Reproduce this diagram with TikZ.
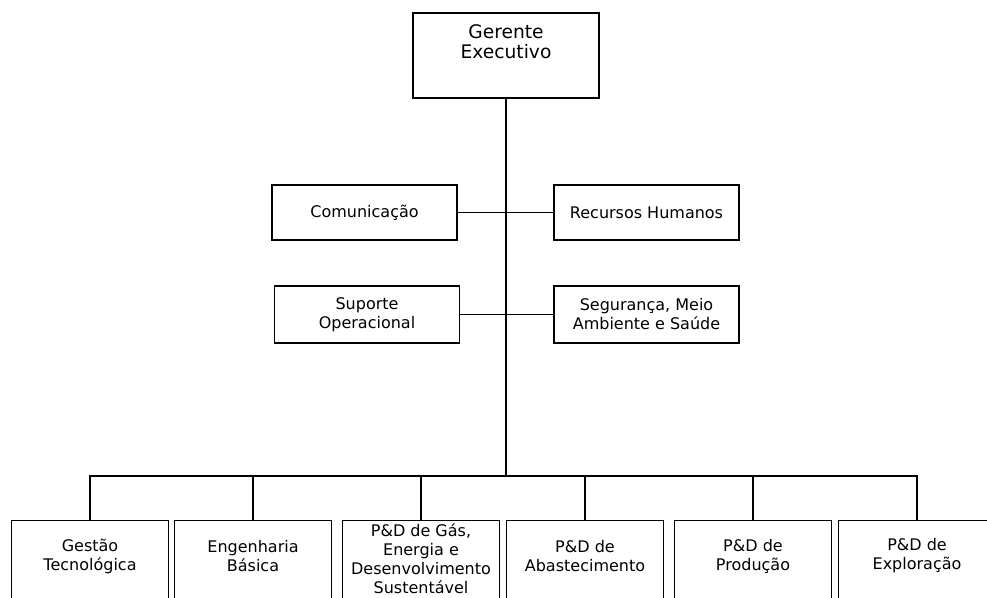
\documentclass[tikz,border=0pt]{standalone}
\usepackage{fontspec}
\setmainfont{DejaVu Sans}
\begin{document}
\begin{tikzpicture}[x=0.75pt,y=-0.75pt,
  every node/.style={font=\fontsize{12}{14.3}\selectfont},
  line width=1pt
]

\tikzstyle{unit}=[draw,rectangle,inner sep=0pt,align=center]
\tikzstyle{staff}=[unit,minimum width=138.75pt,minimum height=41.25pt]
\tikzstyle{area}=[unit,anchor=north,minimum width=117.75pt,minimum height=82.5pt]
\tikzstyle{toplbl}=[anchor=center,align=center,yshift=-21.75pt,
  font=\fontsize{14}{15}\selectfont]
\tikzstyle{arealbl}=[anchor=center,align=center,yshift=-27pt]

\useasboundingbox (0,0) rectangle (987,598);
\clip (0,0) rectangle (987,598);

\node [unit,minimum width=139.5pt,minimum height=63.75pt,
  label={[toplbl]north:Gerente\\Executivo}] (ger) at (506,55.5) {};

\node [staff] (com) at (364.5,212.5) {Comunicação};
\node [staff] (rh) at (646.5,212.5) {Recursos Humanos};
\node [staff,minimum height=42.75pt] (sup) at (367,314.5) {Suporte\\Operacional};
\node [staff,minimum height=42.75pt] (sms) at (646.5,314.5) {Segurança, Meio\\Ambiente e Saúde};

\node [area,label={[arealbl]north:Gestão\\Tecnológica}] (gt) at (90,520) {};
\node [area,label={[arealbl]north:Engenharia\\Básica}] (eb) at (253,520) {};
\node [area,label={[arealbl,yshift=-2pt]north:P\&D de Gás,\\Energia e\\Desenvolvimento\\Sustentável}] (gas) at (421,520) {};
\node [area,label={[arealbl]north:P\&D de\\Abastecimento}] (abast) at (585,520) {};
\node [area,label={[arealbl]north:P\&D de\\Produção}] (prod) at (753,520) {};
\node [area,label={[arealbl]north:P\&D de\\Exploração}] (expl) at (917,520) {};

\coordinate (bus) at (506,476);

\draw (ger.south) -- (bus);
\draw (com.east) -- (rh.west);
\draw (sup.east) -- (sms.west);
\foreach \n in {gt,eb,gas,abast,prod,expl}
  \draw (\n.north) |- (bus);
\end{tikzpicture}
\end{document}
